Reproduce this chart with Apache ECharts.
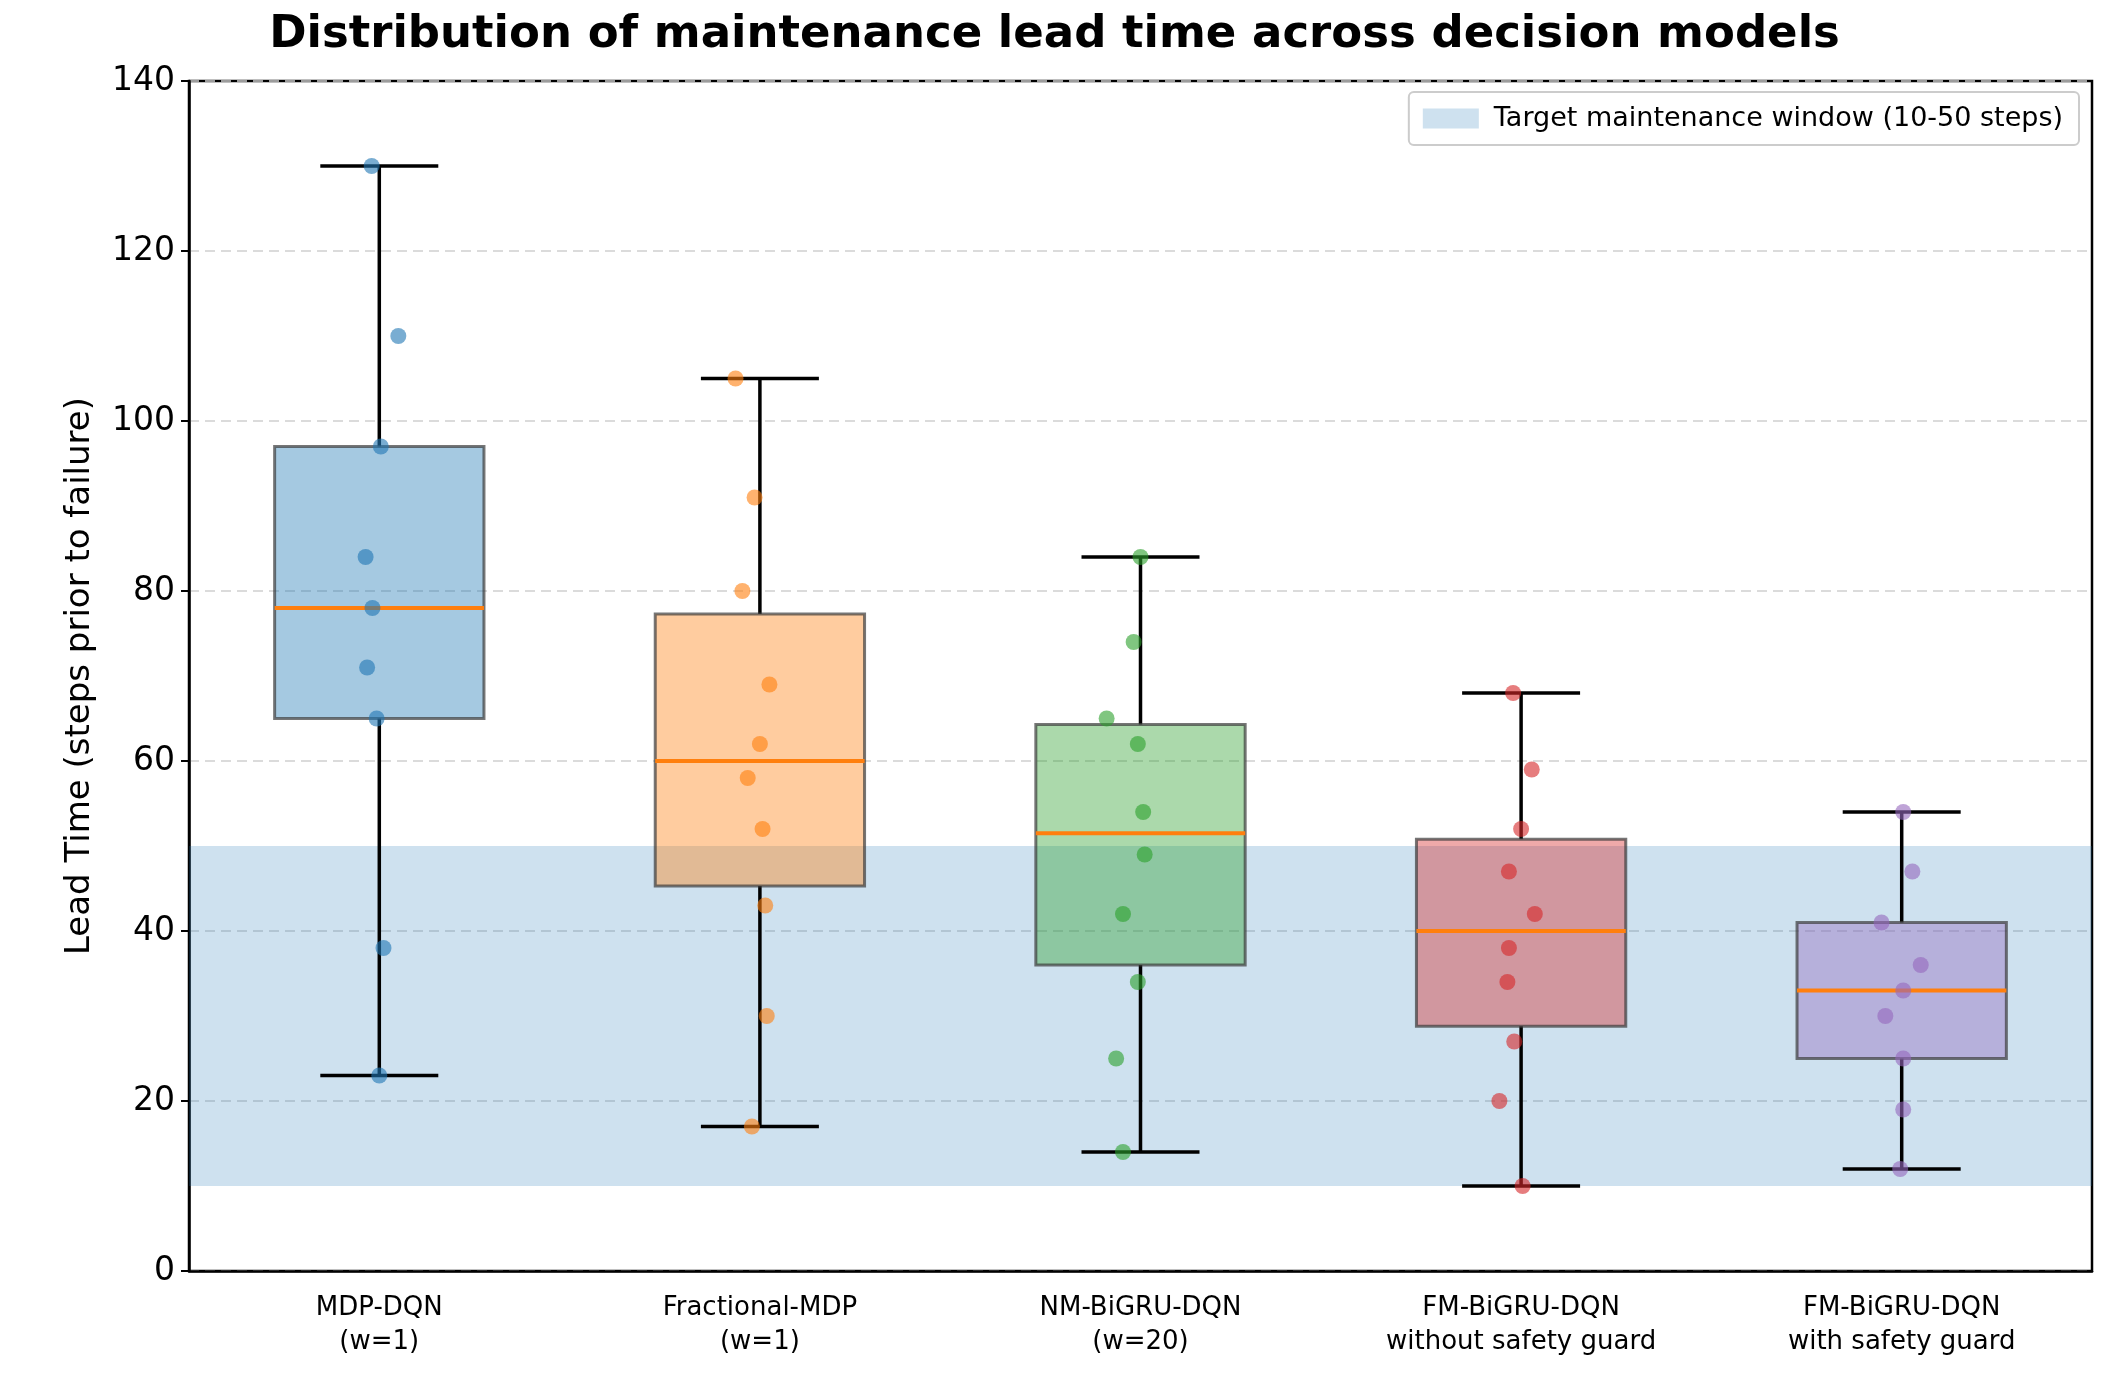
<!DOCTYPE html>
<html>
<head>
<meta charset="utf-8">
<script src="https://cdn.jsdelivr.net/npm/echarts@6/dist/echarts.min.js"></script>
<style>html,body{margin:0;padding:0;background:#fff}#main{width:2109px;height:1387px}</style>
</head>
<body>
<div id="main"></div>
<script>
var categories = ['MDP-DQN\n(w=1)', 'Fractional-MDP\n(w=1)', 'NM-BiGRU-DQN\n(w=20)', 'FM-BiGRU-DQN\nwithout safety guard', 'FM-BiGRU-DQN\nwith safety guard'];
var colors = ['#1f77b4', '#ff7f0e', '#2ca02c', '#d62728', '#9467bd'];
// [whiskerLow, q1, median, q3, whiskerHigh]
var boxStats = [
    [23, 65, 78, 97, 130],
    [17, 45.3, 60, 77.3, 105],
    [14, 36, 51.5, 64.3, 84],
    [10, 28.8, 40, 50.8, 68],
    [12, 25, 33, 41, 54]
];
// individual runs (value) and their horizontal jitter (category units)
var pointValues = [
    [130, 110, 97, 84, 78, 71, 65, 38, 23],
    [105, 91, 80, 69, 62, 58, 52, 43, 30, 17],
    [84, 74, 65, 62, 54, 49, 42, 34, 25, 14],
    [68, 59, 52, 47, 42, 38, 34, 27, 20, 10],
    [54, 47, 41, 36, 33, 30, 25, 19, 12]
];
var pointJitter = [
    [-0.02, 0.05, 0.004, -0.036, -0.018, -0.032, -0.007, 0.011, 0],
    [-0.064, -0.014, -0.046, 0.025, 0, -0.032, 0.007, 0.014, 0.018, -0.021],
    [0, -0.018, -0.089, -0.007, 0.007, 0.011, -0.046, -0.007, -0.064, -0.046],
    [-0.021, 0.028, 0, -0.032, 0.036, -0.032, -0.036, -0.018, -0.057, 0.004],
    [0.004, 0.028, -0.053, 0.05, 0.004, -0.043, 0.004, 0.004, -0.004]
];
var bandRange = [10, 50];
var bandName = 'Target maintenance window (10-50 steps)';

function fade(hex, a) {
    var r = parseInt(hex.slice(1, 3), 16), g = parseInt(hex.slice(3, 5), 16), b = parseInt(hex.slice(5, 7), 16);
    return 'rgba(' + r + ',' + g + ',' + b + ',' + a + ')';
}

var boxData = boxStats.map(function (s, i) { return [i].concat(s); });
var scatterSeries = pointValues.map(function (vals, i) {
    return {
        type: 'scatter',
        xAxisIndex: 1,
        symbolSize: 16,
        z: 5,
        itemStyle: { color: fade(colors[i], 0.75) },
        data: vals.map(function (v, j) { return [i + pointJitter[i][j], v]; })
    };
});

var chart = echarts.init(document.getElementById('main'));
chart.setOption({
    animation: false,
    backgroundColor: '#fff',
    title: {
        text: 'Distribution of maintenance lead time across decision models',
        left: 'center', top: 8,
        textStyle: { fontFamily: 'DejaVu Sans', fontWeight: 'bold', fontSize: 45, color: '#000' }
    },
    legend: {
        data: [{ name: bandName, icon: 'rect' }],
        right: 30, top: 92,
        itemWidth: 56, itemHeight: 20,
        itemGap: 20,
        padding: [13, 16, 13, 14],
        backgroundColor: '#fff', borderColor: '#ccc', borderWidth: 2, borderRadius: 5,
        textStyle: { fontFamily: 'DejaVu Sans', fontSize: 27, color: '#000', padding: [0, 0, 0, 10] }
    },
    grid: { left: 189, right: 17, top: 81, bottom: 116, show: true, borderColor: '#000', borderWidth: 2.5, backgroundColor: 'transparent' },
    xAxis: [{
        type: 'category', data: categories,
        axisLine: { lineStyle: { color: '#000', width: 2.5 } },
        axisTick: { alignWithLabel: true, length: 8, lineStyle: { color: '#000', width: 2 } },
        axisLabel: { fontFamily: 'DejaVu Sans', fontSize: 26, color: '#000', lineHeight: 34, margin: 20 }
    }, {
        type: 'value', min: -0.5, max: 4.5, show: false,
        axisLine: { show: false }, splitLine: { show: false }
    }],
    yAxis: {
        type: 'value', min: 0, max: 140, interval: 20,
        name: 'Lead Time (steps prior to failure)', nameLocation: 'middle', nameGap: 92,
        nameTextStyle: { fontFamily: 'DejaVu Sans', fontSize: 34, color: '#000' },
        axisLine: { show: true, onZero: false, lineStyle: { color: '#000', width: 2.5 } },
        axisTick: { show: true, length: 8, lineStyle: { color: '#000', width: 2 } },
        axisLabel: { fontFamily: 'DejaVu Sans', fontSize: 33, color: '#000', margin: 14 },
        splitLine: { show: true, lineStyle: { color: '#d0d0d0', type: [10, 6], width: 1.5 } }
    },
    series: [{
        name: bandName,
        type: 'line',
        data: [],
        itemStyle: { color: fade('#1f77b4', 0.22) },
        markArea: {
            silent: true,
            itemStyle: { color: fade('#1f77b4', 0.22) },
            data: [[{ yAxis: bandRange[0], x: 189 }, { yAxis: bandRange[1], x: 2092 }]]
        }
    }, {
        type: 'custom',
        z: 3,
        data: boxData,
        renderItem: function (params, api) {
            var i = api.value(0);
            var lo = api.coord([i, api.value(1)]);
            var q1 = api.coord([i, api.value(2)]);
            var med = api.coord([i, api.value(3)]);
            var q3 = api.coord([i, api.value(4)]);
            var hi = api.coord([i, api.value(5)]);
            var cx = lo[0];
            var hw = api.size([1, 0])[0] * 0.275;
            var cw = api.size([1, 0])[0] * 0.155;
            var black = { stroke: '#000', lineWidth: 3.5 };
            return {
                type: 'group',
                children: [
                    { type: 'line', shape: { x1: cx, y1: q1[1], x2: cx, y2: lo[1] }, style: black },
                    { type: 'line', shape: { x1: cx, y1: q3[1], x2: cx, y2: hi[1] }, style: black },
                    { type: 'line', shape: { x1: cx - cw, y1: lo[1], x2: cx + cw, y2: lo[1] }, style: black },
                    { type: 'line', shape: { x1: cx - cw, y1: hi[1], x2: cx + cw, y2: hi[1] }, style: black },
                    { type: 'rect', shape: { x: cx - hw, y: q3[1], width: hw * 2, height: q1[1] - q3[1] },
                      style: { fill: fade(colors[i], 0.4), stroke: 'rgba(60,60,60,0.7)', lineWidth: 3 } },
                    { type: 'line', shape: { x1: cx - hw, y1: med[1], x2: cx + hw, y2: med[1] },
                      style: { stroke: '#ff7f0e', lineWidth: 4 } }
                ]
            };
        }
    }].concat(scatterSeries)
});
</script>
</body>
</html>
